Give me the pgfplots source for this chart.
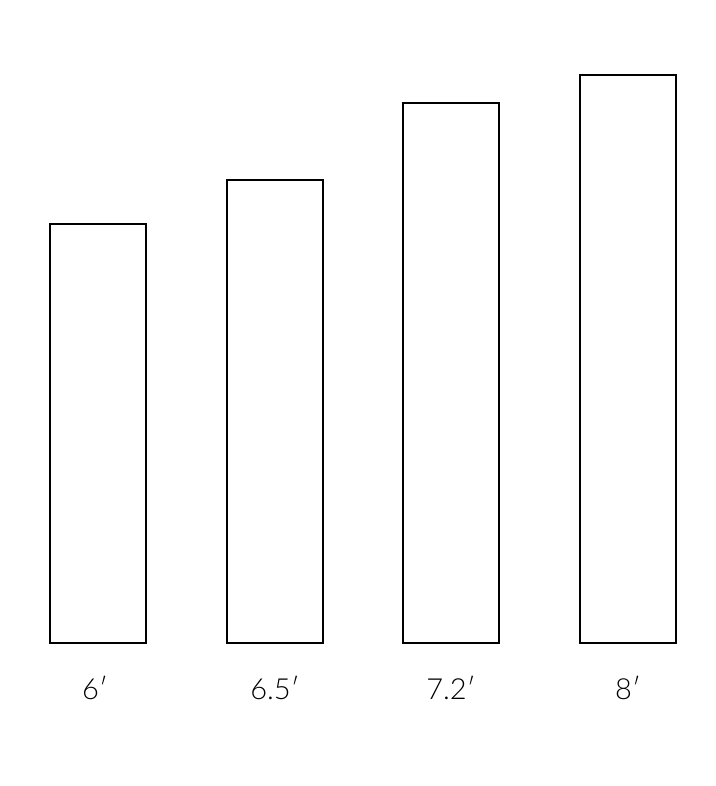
\documentclass[border=0pt]{standalone}
\usepackage{pgfplots}
\pgfplotsset{compat=1.18}
\usepackage{fontspec}
\setmainfont{Lato}[UprightFont=* Light]
\begin{document}
\begin{tikzpicture}
\begin{axis}[
  at={(0pt,0pt)}, anchor=south west,
  scale only axis, width=715pt, height=786pt,
  xmin=0, xmax=715, ymin=-143, ymax=643,
  axis lines=none, ticks=none, clip=false,
  ybar, bar width=96, bar shift=0pt,
]
\path (rel axis cs:0,0) rectangle (rel axis cs:1,1);
\addplot[draw=black, fill=white, line width=2pt] coordinates {(98,419) (275,463) (451,540) (628,568)};
\node[font=\fontsize{29}{32}\selectfont] at (axis cs:95,-45) {6′};
\node[font=\fontsize{29}{32}\selectfont] at (axis cs:275,-45) {6.5′};
\node[font=\fontsize{29}{32}\selectfont] at (axis cs:451,-45) {7.2′};
\node[font=\fontsize{29}{32}\selectfont] at (axis cs:628,-45) {8′};
\end{axis}
\path (0pt,0pt) rectangle (715pt,786pt);
\end{tikzpicture}
\end{document}
